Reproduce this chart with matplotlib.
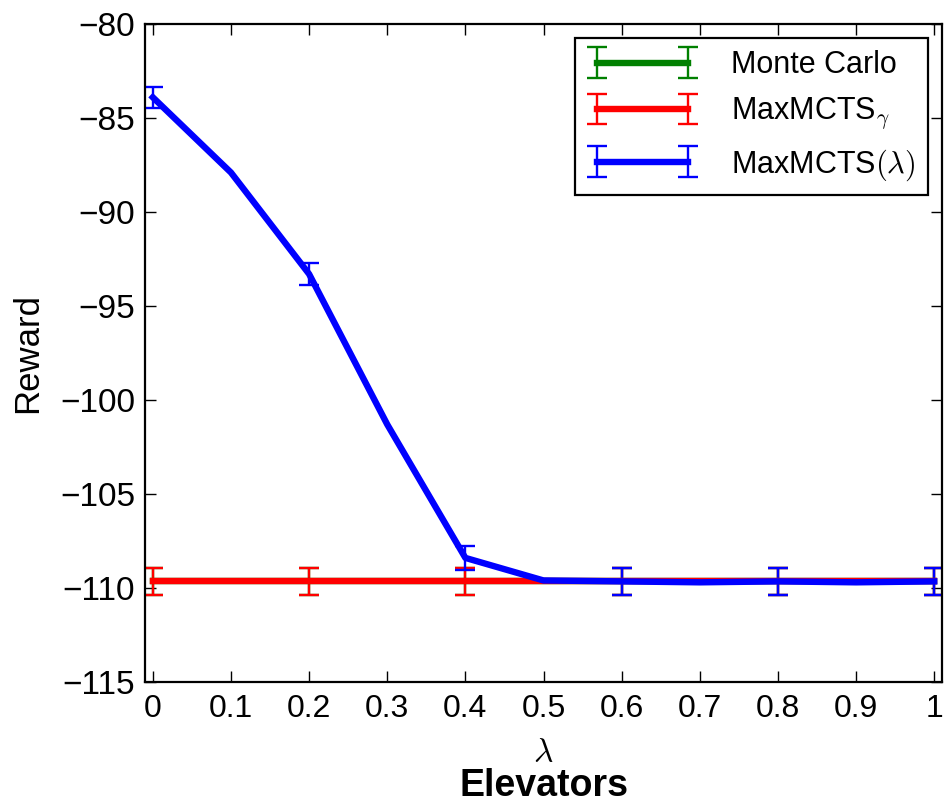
import matplotlib
matplotlib.use("Agg")
import matplotlib.pyplot as plt
import numpy as np

# Data
lam = [0.0, 0.1, 0.2, 0.3, 0.4, 0.5, 0.6, 0.7, 0.8, 0.9, 1.0]
monte_carlo = [-109.65] * 11
monte_carlo_err = [0.7] * 11
maxmcts_gamma = [-109.65] * 11
maxmcts_gamma_err = [0.7] * 11
maxmcts_lambda = [-83.9, -87.9, -93.3, -101.3, -108.4, -109.6, -109.65, -109.7, -109.65, -109.7, -109.65]
maxmcts_lambda_err = [0.55, 0.55, 0.6, 0.6, 0.65, 0.7, 0.7, 0.7, 0.7, 0.7, 0.7]

xticks = [0, 0.1, 0.2, 0.3, 0.4, 0.5, 0.6, 0.7, 0.8, 0.9, 1]
xticklabels = ["0", "0.1", "0.2", "0.3", "0.4", "0.5", "0.6", "0.7", "0.8", "0.9", "1"]
yticks = [-115, -110, -105, -100, -95, -90, -85, -80]

plt.rcParams["font.family"] = ["Liberation Sans", "DejaVu Sans"]
plt.rcParams["mathtext.fontset"] = "cm"

fig = plt.figure(figsize=(9.44, 8.11), dpi=100)
L, B, W, H = 0.1536, 0.1591, 0.8443, 0.8113
ax = fig.add_axes([L, B, W, H])

common = dict(linewidth=4.6, elinewidth=1.7, capsize=7, capthick=1.7, errorevery=2)
ax.errorbar(lam, monte_carlo, yerr=monte_carlo_err, color="green", label="Monte Carlo", **common)
ax.errorbar(lam, maxmcts_gamma, yerr=maxmcts_gamma_err, color="red", label=r"MaxMCTS$_\gamma$", **common)
ax.errorbar(lam, maxmcts_lambda, yerr=maxmcts_lambda_err, color="blue", label=r"MaxMCTS$(\lambda)$", **common)

ax.set_xlim(-0.01, 1.01)
ax.set_ylim(-115, -80)
ax.set_xticks(xticks)
ax.set_xticklabels(xticklabels)
ax.set_yticks(yticks)
ax.set_yticklabels([f"\u2212{abs(v)}" for v in yticks])

ax.tick_params(direction="in", length=8, width=1, top=True, right=True)
ax.tick_params(axis="x", pad=9, labelsize=23)
ax.tick_params(axis="y", pad=7, labelsize=24)
for s in ax.spines.values():
    s.set_linewidth(1.6)

ax.set_ylabel("Reward", fontsize=25)
ax.yaxis.set_label_coords(-0.127, 0.5)

xc = L + W / 2
fig.text(xc, 1 - 754 / 811, r"$\lambda$", fontsize=24, ha="center", va="center")
fig.text(xc, 1 - 786 / 811, "Elevators", fontsize=27, fontweight="bold",
         ha="center", va="center")

leg = ax.legend(loc="upper right", bbox_to_anchor=(0.9824, 0.9787), fontsize=22,
                numpoints=2, handlelength=3.6, borderaxespad=0.0, frameon=True,
                fancybox=False, framealpha=1, edgecolor="black", labelspacing=0.5,
                handletextpad=1.1, borderpad=0.4)
leg.get_frame().set_linewidth(1.6)

fig.savefig("out.png", dpi=100)
